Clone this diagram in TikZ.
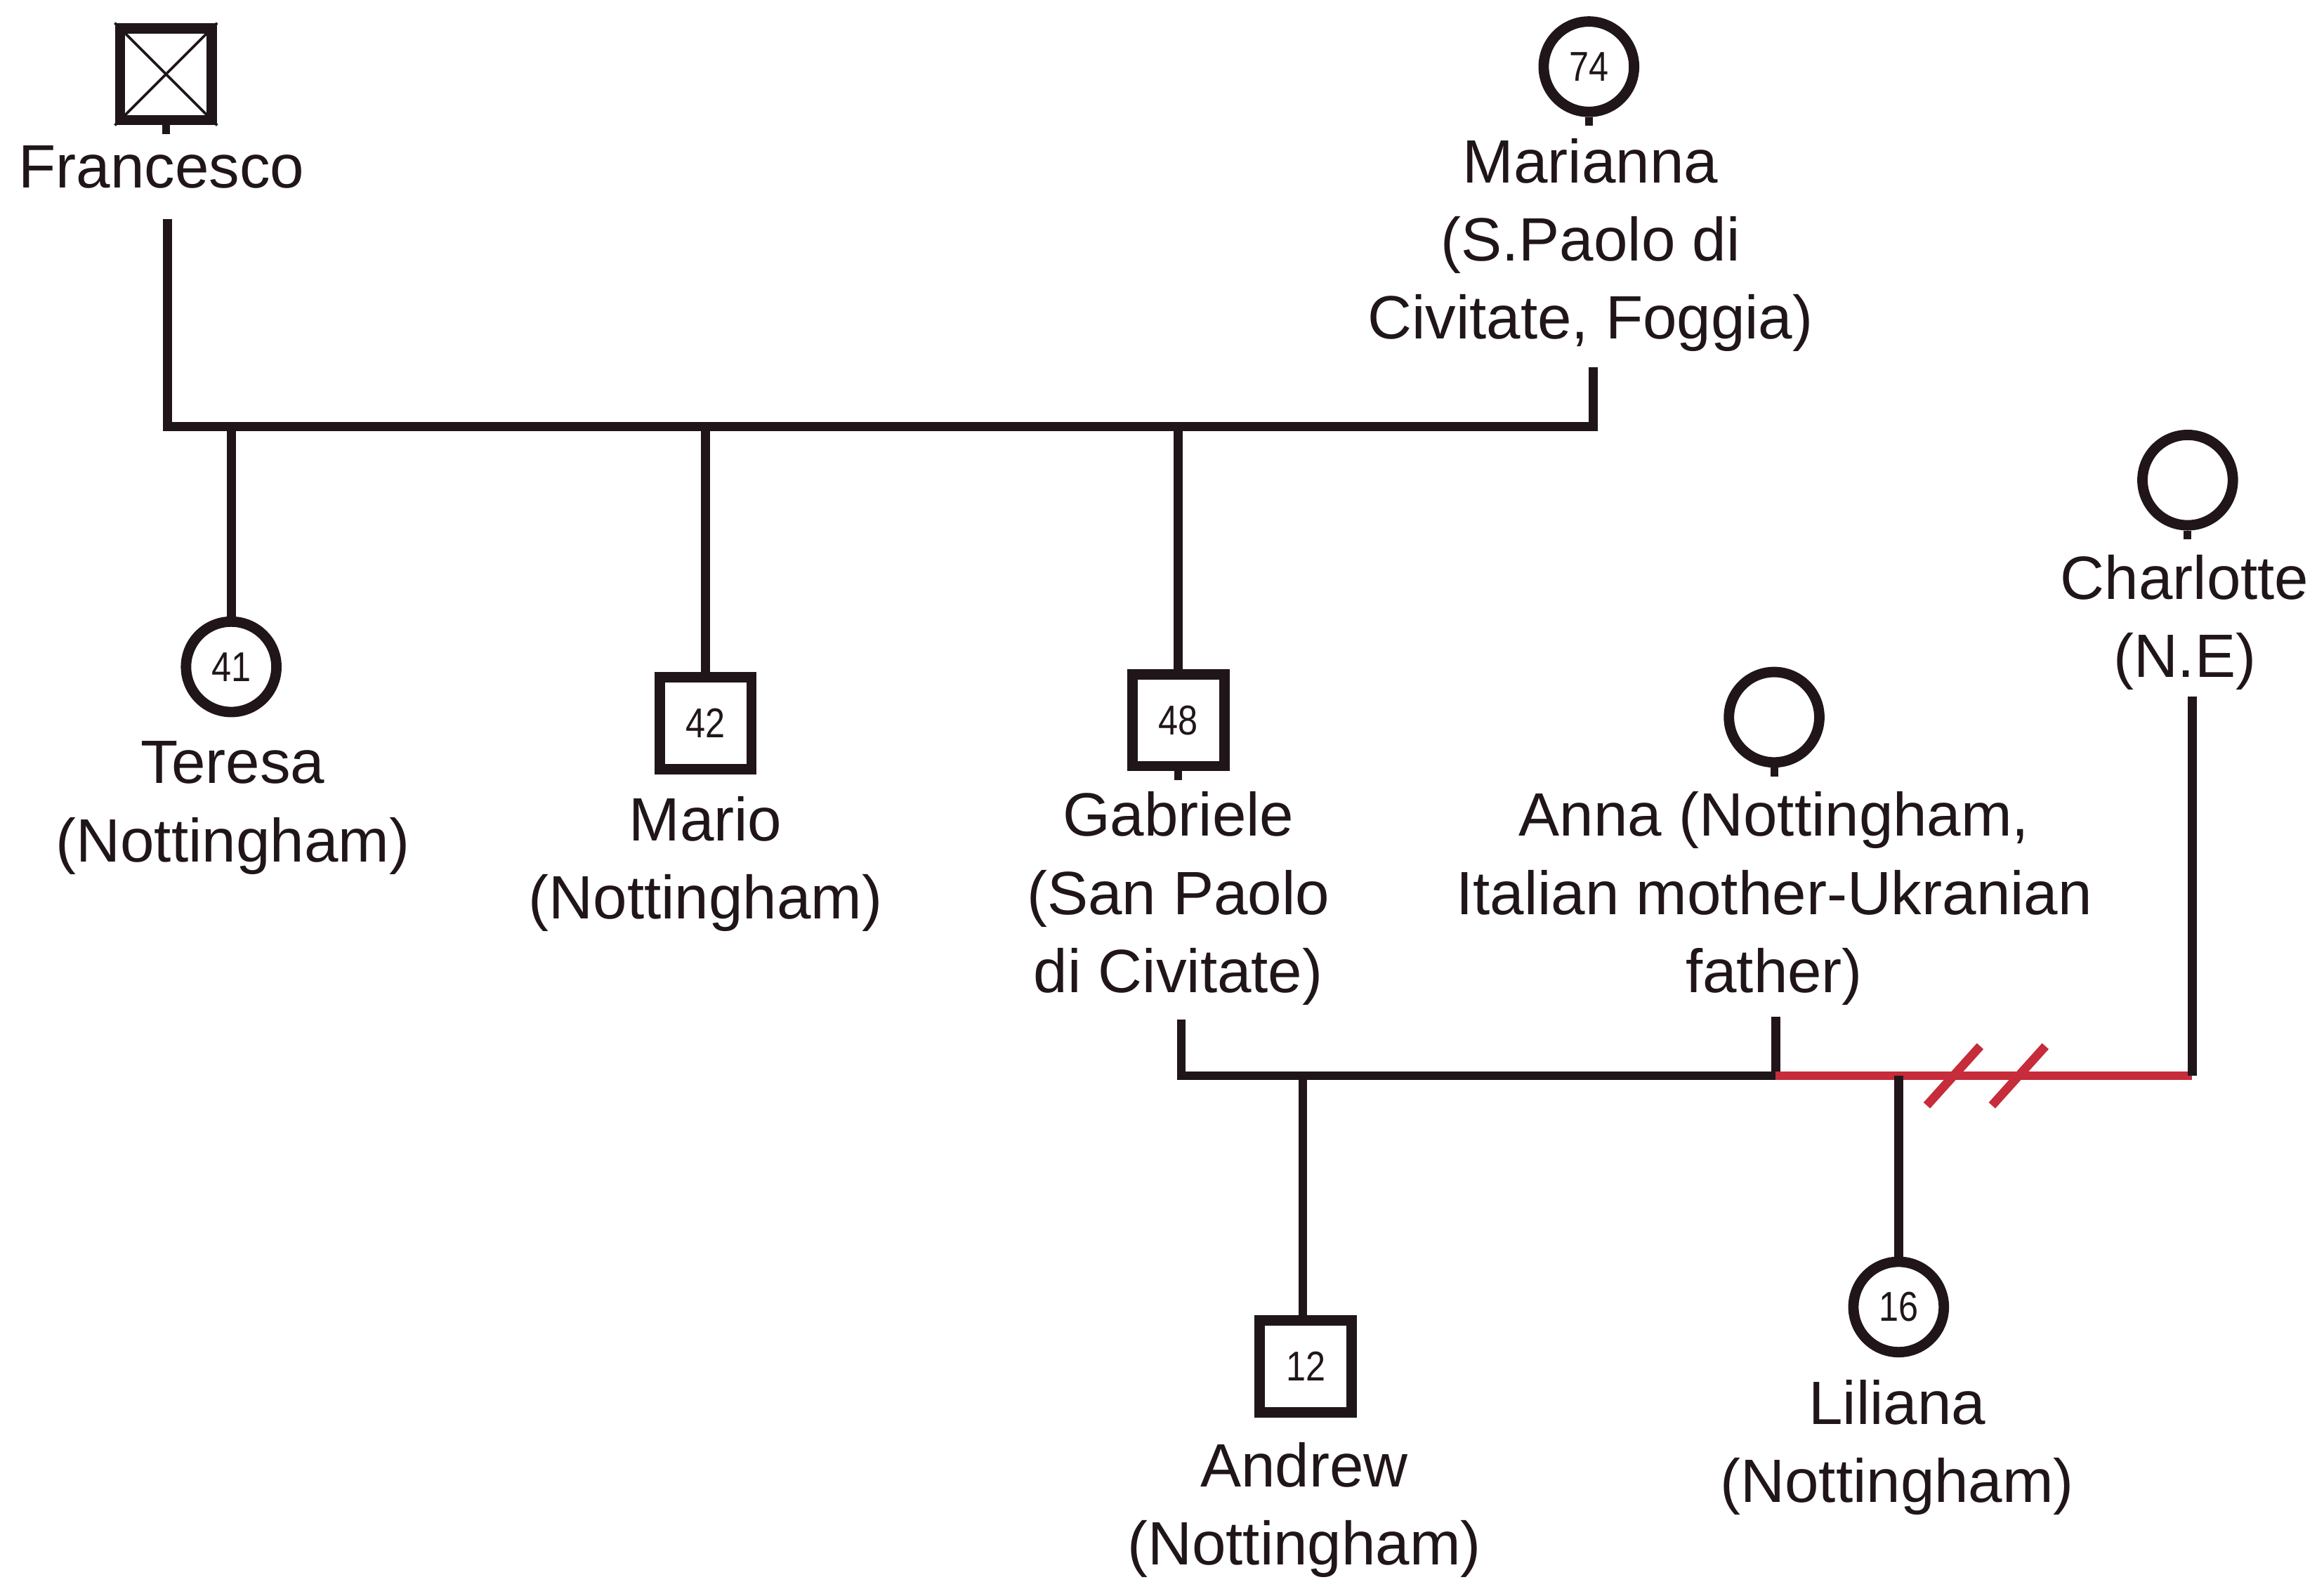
\documentclass[tikz,border=0pt]{standalone}
\usepackage{fontspec}
\setmainfont{Liberation Sans}
\definecolor{ink}{RGB}{32,22,26}
\definecolor{sepred}{RGB}{198,44,58}
\newcommand\lblfnt{\fontsize{23.5}{30}\selectfont}
\newcommand\agefnt{\fontsize{16}{18}\selectfont}
\newcommand\agenum[1]{\scalebox{0.85}[1]{#1}}
\begin{document}
\begin{tikzpicture}[x=0.02cm, y=-0.02cm, color=ink,
  male/.style={rectangle, draw, minimum size=1.24cm, inner sep=0pt, line width=4pt, font=\agefnt},
  female/.style={circle, draw, minimum size=1.22cm, inner sep=0pt, line width=4pt, font=\agefnt},
  lbl/.style={align=center, anchor=north, inner sep=0pt, font=\lblfnt},
  link/.style={line width=3.4pt, line join=miter},
  sep/.style={line width=3.4pt, draw=sepred},
  nub/.style={line width=3pt}]
\useasboundingbox (0,0) rectangle (1568,1072);

% --- generation I ---
\node[male] (francesco) at (112,50) {};
\draw[line width=1pt] (francesco.north west) -- (francesco.south east)
                      (francesco.north east) -- (francesco.south west);
\node[lbl] (flab) at (109,98) {Francesco};
\node[female] (marianna) at (1072,45) {\agenum{74}};
\node[lbl] (malab) at (1073,93) {Marianna\\(S.Paolo di\\Civitate, Foggia)};

% --- generation II ---
\node[female] (teresa) at (156,450) {\agenum{41}};
\node[lbl] (tlab) at (157,500) {Teresa\\(Nottingham)};
\node[male] (mario) at (476,488) {\agenum{42}};
\node[lbl] (mlab) at (476,537) {Mario\\(Nottingham)};
\node[male] (gabriele) at (795,486) {\agenum{48}};
\node[lbl] (glab) at (795,534) {Gabriele\\(San Paolo\\di Civitate)};
\node[female] (anna) at (1197,484) {};
\node[lbl] (alab) at (1197,534) {Anna (Nottingham,\\Italian mother-Ukranian\\father)};
\node[female] (charlotte) at (1476,324) {};
\node[lbl] (clab) at (1474,374) {Charlotte\\(N.E)};

% --- generation III ---
\node[male] (andrew) at (881,922) {\agenum{12}};
\node[lbl] (anlab) at (880,973) {Andrew\\(Nottingham)};
\node[female] (liliana) at (1281,882) {\agenum{16}};
\node[lbl] (llab) at (1280,931) {Liliana\\(Nottingham)};

% small marks under the partner symbols
\foreach \p in {francesco, marianna, gabriele, anna, charlotte}
  \draw[nub] (\p.south) -- ++(0,6);

% --- first couple and their children ---
\coordinate (fa) at (113,148);
\coordinate (ma) at (1075,248);
\coordinate (sibA) at (0,288);
\draw[link] (fa) -- (fa |- sibA) -- (ma |- sibA) -- (ma);
\draw[link] (teresa.north) -- (teresa.north |- sibA);
\draw[link] (mario.north) -- (mario.north |- sibA);
\draw[link] (gabriele.north) -- (gabriele.north |- sibA);

% --- Gabriele and Anna ---
\coordinate (ga) at (797,688);
\coordinate (an) at (1198,686);
\coordinate (sibB) at (0,726);
\draw[link] (ga) -- (ga |- sibB) -- (an |- sibB) -- (an);
\draw[link] (andrew.north) -- (andrew.north -| 879,0) -- (879,726);

% --- Anna and Charlotte (separated) ---
\coordinate (ch) at (1479,470);
\draw[sep] (an |- sibB) -- (ch |- sibB);
\draw[link] (ch) -- (ch |- sibB);
\draw[sep] (1300,746) -- (1336,706);
\draw[sep] (1344,746) -- (1380,706);
\draw[link] (liliana.north) -- (liliana.north |- sibB);
\end{tikzpicture}
\end{document}
